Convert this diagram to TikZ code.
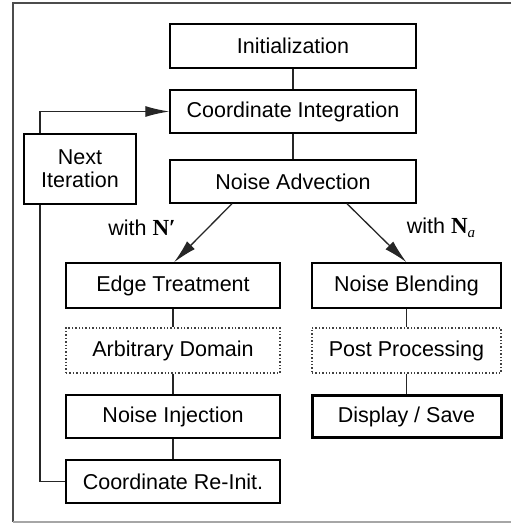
\documentclass[tikz,border=0pt]{standalone}
\usepackage{fontspec}
\setmainfont{Liberation Sans}
\newfontfamily\nserif{Liberation Serif}
\usetikzlibrary{arrows.meta}
\tikzset{
  box/.style={draw=black, line width=1.4pt, minimum width=#1, minimum height=44pt, inner sep=0pt, font=\fontsize{21.5}{25}\selectfont, text=black},
  dotbox/.style={box=#1, draw=black!75, dotted, line width=1.2pt},
  thickbox/.style={box=#1, line width=3pt},
  conn/.style={line width=1.3pt, draw=black!85},
  arr/.style={conn, -{Latex[length=24pt,width=11pt]}},
  lbl/.style={font=\fontsize{21.5}{25}\selectfont, text=black, inner sep=0pt}
}
\begin{document}
\begin{tikzpicture}[x=1pt,y=-1pt]
\useasboundingbox (0,0) rectangle (511,524);
% frame
\draw[line width=2pt, black!70] (511,3.5) -- (13,3.5) -- (13,522);
\draw[line width=2pt, black!35] (13,522) -- (511,522);
% nodes
\node[box=246pt] (init) at (293,46) {Initialization};
\node[box=246pt, minimum height=43pt] (coord) at (293,111.5) {Coordinate Integration};
\node[box=246pt, minimum height=43pt] (adv) at (293,181.5) {Noise Advection};
\node[box=112pt, minimum height=70pt, align=center] (next) at (80,169) {Next\\[-2pt]Iteration};
\node[box=214pt, minimum height=45pt] (edge) at (173,285.5) {Edge Treatment};
\node[box=189pt, minimum height=45pt] (blend) at (406.5,285.5) {Noise Blending};
\node[dotbox=214pt, minimum height=45pt] (arb) at (173,350.5) {Arbitrary Domain};
\node[dotbox=189pt, minimum height=45pt] (post) at (406.5,350.5) {Post Processing};
\node[box=214pt, minimum height=43pt] (inj) at (173,416.5) {Noise Injection};
\node[thickbox=189pt, minimum height=42pt] (disp) at (406.5,416.5) {Display / Save};
\node[box=214pt, minimum height=43pt] (reinit) at (173,481.5) {Coordinate Re-Init.};
% labels
\node[lbl] (lN) at (142,228) {with {\nserif\bfseries\fontsize{23}{25}\selectfont N′}};
\node[lbl] (lNa) at (441,228) {with {\nserif\bfseries\fontsize{23}{25}\selectfont N\raisebox{-4pt}{\fontsize{15}{16}\selectfont\mdseries\itshape a}}};
% connectors
\draw[conn] (init) -- (coord);
\draw[conn] (coord) -- (adv);
\draw[conn] (edge) -- (arb);
\draw[conn] (arb) -- (inj);
\draw[conn] (inj) -- (reinit);
\draw[conn] (blend) -- (post);
\draw[conn] (post) -- (disp);
\draw[arr] ([xshift=-61pt]adv.south) -- ([xshift=1pt]edge.north);
\draw[arr] ([xshift=54pt]adv.south) -- (blend.north);
\draw[arr] ([xshift=-40pt]next.north) |- (coord.west);
\draw[conn] ([xshift=-40pt]next.south) |- (reinit.west);
\end{tikzpicture}
\end{document}
